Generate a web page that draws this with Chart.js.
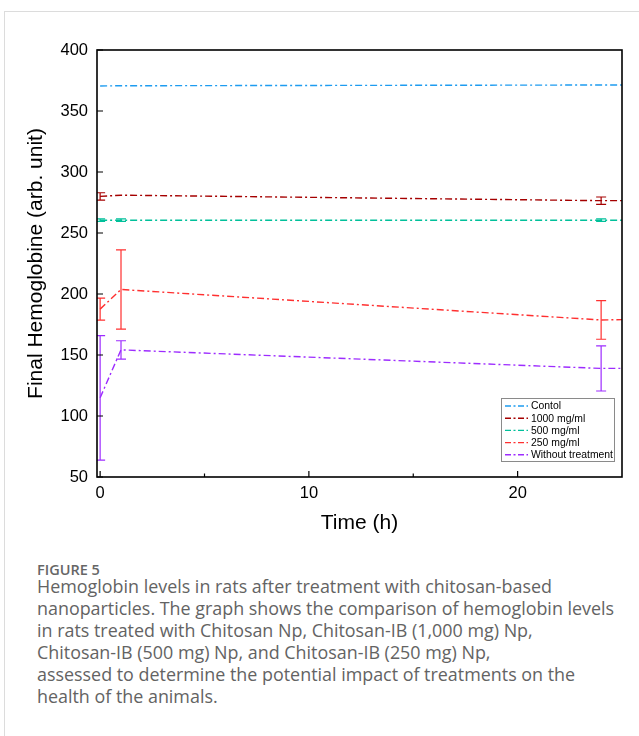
<!DOCTYPE html>
<html>
<head>
<meta charset="utf-8">
<script src="https://cdn.jsdelivr.net/npm/chart.js@4.4.0/dist/chart.umd.min.js"></script>
<style>
  body { margin: 0; background: #fff; width: 639px; height: 736px; overflow: hidden; position: relative; }
  .frame { position: absolute; left: 4px; top: 11px; right: -2px; bottom: -2px; border-top: 1px solid #dcdcdc; border-left: 1px solid #dcdcdc; }
  #wrap { position: absolute; left: 0; top: 0; width: 639px; height: 545px; }
  .fig { position: absolute; left: 37px; top: 560px; font-family: "Open Sans", sans-serif; font-size: 14.5px; font-weight: 600; color: #666; }
  .cap { position: absolute; left: 37px; top: 575px; font-family: "Open Sans", sans-serif; font-size: 17.9px; line-height: 22px; color: #636363; white-space: nowrap; }
</style>
</head>
<body>
<div class="frame"></div>
<div id="wrap"><canvas id="chart"></canvas></div>
<div class="fig">FIGURE 5</div>
<div class="cap">Hemoglobin levels in rats after treatment with chitosan-based<br>nanoparticles. The graph shows the comparison of hemoglobin levels<br>in rats treated with Chitosan Np, Chitosan-IB (1,000 mg) Np,<br>Chitosan-IB (500 mg) Np, and Chitosan-IB (250 mg) Np,<br>assessed to determine the potential impact of treatments on the<br>health of the animals.</div>
<script>
// time points (h); last one is where the lines meet the right frame
const times = [0, 1, 24, 25];

const labels = ["Contol", "1000 mg/ml", "500 mg/ml", "250 mg/ml", "Without treatment"];
const colors = ["#1e9cf0", "#a50000", "#00c09a", "#ff3030", "#9d2cff"];

const control = [370.5, 370.7, 371.3, 371.3];
const mg1000 = [280, 281, 276.5, 276.5];
const mg500 = [260.5, 260.5, 260.5, 260.5];
const mg250 = [187.6, 203.7, 178.7, 179];
const noTreat = [114.9, 154.2, 139, 139];

const errControl = [null, null, null, null];
const err1000 = [3, null, 3, null];
const err500 = [1, 1, 1, null];
const err250 = [9, 32.5, 15.8, null];
const errNone = [51, 7.5, 18.5, null];

const xTicks = [0, 10, 20];
const xMinor = [5, 15];
const yTicks = [50, 100, 150, 200, 250, 300, 350, 400];

const series = [control, mg1000, mg500, mg250, noTreat];
const errors = [errControl, err1000, err500, err250, errNone];

const dash = [7, 3, 2, 3];

const datasets = series.map((vals, i) => ({
  label: labels[i],
  data: times.map((t, j) => ({ x: t, y: vals[j] })),
  err: errors[i],
  borderColor: colors[i],
  backgroundColor: colors[i],
  borderWidth: 1.4,
  borderDash: dash,
  showLine: true,
  pointRadius: 0,
  tension: 0,
}));

const errorBars = {
  id: "errorBars",
  afterDatasetsDraw(chart) {
    const c = chart.ctx;
    const xs = chart.scales.x, ys = chart.scales.y;
    const a = chart.chartArea;
    c.save();
    c.beginPath();
    c.rect(a.left, a.top, a.right - a.left, a.bottom - a.top);
    c.clip();
    chart.data.datasets.forEach(ds => {
      c.strokeStyle = ds.borderColor;
      c.lineWidth = 1.2;
      c.setLineDash([]);
      ds.data.forEach((p, j) => {
        const e = ds.err[j];
        if (e == null) return;
        const px = xs.getPixelForValue(p.x);
        const y1 = ys.getPixelForValue(p.y + e);
        const y2 = ys.getPixelForValue(p.y - e);
        c.beginPath();
        c.moveTo(px, y1); c.lineTo(px, y2);
        c.moveTo(px - 5, y1); c.lineTo(px + 5, y1);
        c.moveTo(px - 5, y2); c.lineTo(px + 5, y2);
        c.stroke();
      });
    });
    c.restore();
  }
};

const frameAndLegend = {
  id: "frameAndLegend",
  afterDraw(chart) {
    const c = chart.ctx;
    const a = chart.chartArea;
    const xs = chart.scales.x, ys = chart.scales.y;
    c.save();
    c.strokeStyle = "#000";
    c.lineWidth = 1.6;
    c.setLineDash([]);
    c.strokeRect(a.left, a.top, a.right - a.left, a.bottom - a.top);

    c.lineWidth = 1.2;
    c.beginPath();
    xTicks.forEach(t => {
      const px = xs.getPixelForValue(t);
      c.moveTo(px, a.bottom); c.lineTo(px, a.bottom - 6);
    });
    xMinor.forEach(t => {
      const px = xs.getPixelForValue(t);
      c.moveTo(px, a.bottom); c.lineTo(px, a.bottom - 3.5);
    });
    yTicks.forEach(t => {
      const py = ys.getPixelForValue(t);
      c.moveTo(a.left, py); c.lineTo(a.left + 6, py);
    });
    c.stroke();

    // legend box, lower right
    const lx = 501, ly = 398, lw = 113, lh = 63;
    c.fillStyle = "#fff";
    c.fillRect(lx, ly, lw, lh);
    c.strokeStyle = "#8a8a8a";
    c.lineWidth = 1;
    c.strokeRect(lx + 0.5, ly + 0.5, lw, lh);
    c.font = "10.4px 'Liberation Sans', Arial, sans-serif";
    c.textBaseline = "middle";
    chart.data.datasets.forEach((ds, i) => {
      const yy = ly + 8 + i * 12.2;
      c.strokeStyle = ds.borderColor;
      c.lineWidth = 1.4;
      c.setLineDash([6, 2.5, 2, 2.5]);
      c.beginPath();
      c.moveTo(lx + 4, yy); c.lineTo(lx + 27, yy);
      c.stroke();
      c.fillStyle = "#000";
      c.fillText(ds.label, lx + 30, yy + 0.5);
    });
    c.restore();
  }
};

const fam = "'Liberation Sans', Arial, sans-serif";

new Chart(document.getElementById("chart"), {
  type: "scatter",
  data: { datasets },
  plugins: [errorBars, frameAndLegend],
  options: {
    responsive: true,
    maintainAspectRatio: false,
    animation: false,
    layout: { padding: { top: 50, right: 17, left: 0, bottom: 0 } },
    plugins: { legend: { display: false }, tooltip: { enabled: false } },
    scales: {
      x: {
        type: "linear",
        min: -0.15,
        max: 25,
        afterBuildTicks: s => { s.ticks = xTicks.map(v => ({ value: v })); },
        afterFit: s => { s.height = 68; },
        grid: { display: false, drawTicks: false },
        border: { display: false },
        ticks: { color: "#000", font: { family: fam, size: 16.5 }, padding: 7, maxRotation: 0 },
        title: { display: true, text: "Time (h)", color: "#000", font: { family: fam, size: 21 }, padding: { top: 0, bottom: 9 } },
      },
      y: {
        min: 50,
        max: 400,
        afterBuildTicks: s => { s.ticks = yTicks.map(v => ({ value: v })); },
        afterFit: s => { s.width = 97; },
        grid: { display: false, drawTicks: false },
        border: { display: false },
        ticks: { color: "#000", font: { family: fam, size: 16.5 }, padding: 9 },
        title: { display: true, text: "Final Hemoglobine (arb. unit)", color: "#000", font: { family: fam, size: 21 }, padding: { top: 24, bottom: 0 } },
      },
    },
  },
});
</script>
</body>
</html>
